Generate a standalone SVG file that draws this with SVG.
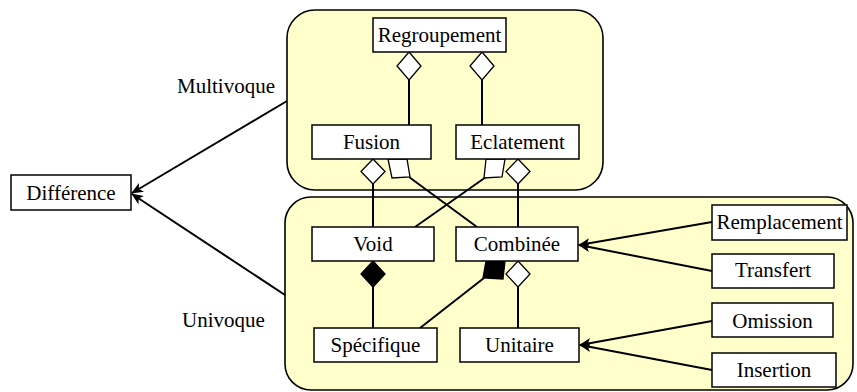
<svg xmlns="http://www.w3.org/2000/svg" width="857" height="392" viewBox="0 0 857 392">
<defs>
<style>
.cont{fill:#FFFFCC;stroke:#000;stroke-width:1.6}
.box{fill:#fff;stroke:#000;stroke-width:1.5}
.t{font-family:"Liberation Serif","Times New Roman",serif;font-size:21px;fill:#000;text-anchor:middle}
.lbl{font-family:"Liberation Serif","Times New Roman",serif;font-size:21px;fill:#000}
.ln{stroke:#000;stroke-width:2;fill:none}
.od{fill:#fff;stroke:#000;stroke-width:1.3}
.fd{fill:#000;stroke:#000;stroke-width:1.3}
</style>
<marker id="arr" viewBox="0 0 12 10" refX="11" refY="5" markerWidth="12" markerHeight="10" markerUnits="userSpaceOnUse" orient="auto">
<path d="M0,0 L12,5 L0,10 L3,5 Z" fill="#000"/>
</marker>
</defs>
<rect id="multivoque-container" class="cont" x="287" y="10" width="316" height="180" rx="28"/>
<rect id="univoque-container" class="cont" x="285" y="197" width="568" height="193" rx="26"/>
<g id="connectors">
<line class="ln" x1="287" y1="101" x2="132" y2="193" marker-end="url(#arr)"/>
<line class="ln" x1="285" y1="295" x2="132" y2="194" marker-end="url(#arr)"/>
<line class="ln" x1="409" y1="80" x2="409" y2="125"/>
<line class="ln" x1="482" y1="80" x2="482" y2="125"/>
<line class="ln" x1="373" y1="184" x2="373" y2="227"/>
<line class="ln" x1="518" y1="184" x2="518" y2="227"/>
<line class="ln" x1="409" y1="177" x2="477" y2="227"/>
<line class="ln" x1="486" y1="177" x2="415" y2="227"/>
<line class="ln" x1="373" y1="287" x2="373" y2="328"/>
<line class="ln" x1="484" y1="278" x2="420" y2="328"/>
<line class="ln" x1="518" y1="287" x2="518" y2="328"/>
<line class="ln" x1="712" y1="222" x2="579" y2="245" marker-end="url(#arr)"/>
<line class="ln" x1="712" y1="271" x2="579" y2="245" marker-end="url(#arr)"/>
<line class="ln" x1="712" y1="321" x2="580" y2="345" marker-end="url(#arr)"/>
<line class="ln" x1="712" y1="370" x2="580" y2="345" marker-end="url(#arr)"/>
<polygon class="od" points="409,52 421,66 409,80 397,66"/>
<polygon class="od" points="482,52 494,66 482,80 470,66"/>
<polygon class="od" points="373,159 385,171.5 373,184 361,171.5"/>
<polygon class="od" points="518,159 530,171.5 518,184 506,171.5"/>
<polygon class="od" points="388,159 392,178 410,177 407,159"/>
<polygon class="od" points="486,159 484,178 502,177 505,159"/>
<polygon class="fd" points="373,261 385,274 373,287 361,274"/>
<polygon class="fd" points="486,261 483,278 503,279 505,261"/>
<polygon class="od" points="518,261 530,274 518,287 506,274"/>
</g>
<g id="difference"><rect class="box" x="11" y="175" width="120" height="35"/><text class="t" x="71" y="200">Différence</text></g>
<g id="regroupement"><rect class="box" x="373" y="18" width="133" height="34"/><text class="t" x="439.5" y="42">Regroupement</text></g>
<g id="fusion"><rect class="box" x="312" y="125" width="119" height="34"/><text class="t" x="371.5" y="149">Fusion</text></g>
<g id="eclatement"><rect class="box" x="456" y="125" width="123" height="34"/><text class="t" x="517.5" y="149">Eclatement</text></g>
<g id="void"><rect class="box" x="312" y="227" width="122" height="34"/><text class="t" x="373" y="251">Void</text></g>
<g id="combinee"><rect class="box" x="456" y="227" width="122" height="34"/><text class="t" x="517" y="251">Combinée</text></g>
<g id="specifique"><rect class="box" x="314" y="328" width="123" height="34"/><text class="t" x="375.5" y="352">Spécifique</text></g>
<g id="unitaire"><rect class="box" x="460" y="328" width="119" height="34"/><text class="t" x="519.5" y="352">Unitaire</text></g>
<g id="remplacement"><rect class="box" x="712" y="205" width="135" height="35"/><text class="t" x="779.5" y="229">Remplacement</text></g>
<g id="transfert"><rect class="box" x="712" y="254" width="122" height="34"/><text class="t" x="773" y="277">Transfert</text></g>
<g id="omission"><rect class="box" x="712" y="303" width="121" height="34"/><text class="t" x="772.5" y="328">Omission</text></g>
<g id="insertion"><rect class="box" x="712" y="353" width="124" height="34"/><text class="t" x="774" y="377">Insertion</text></g>
<text class="lbl" x="177" y="93">Multivoque</text>
<text class="lbl" x="182" y="327">Univoque</text>
</svg>
